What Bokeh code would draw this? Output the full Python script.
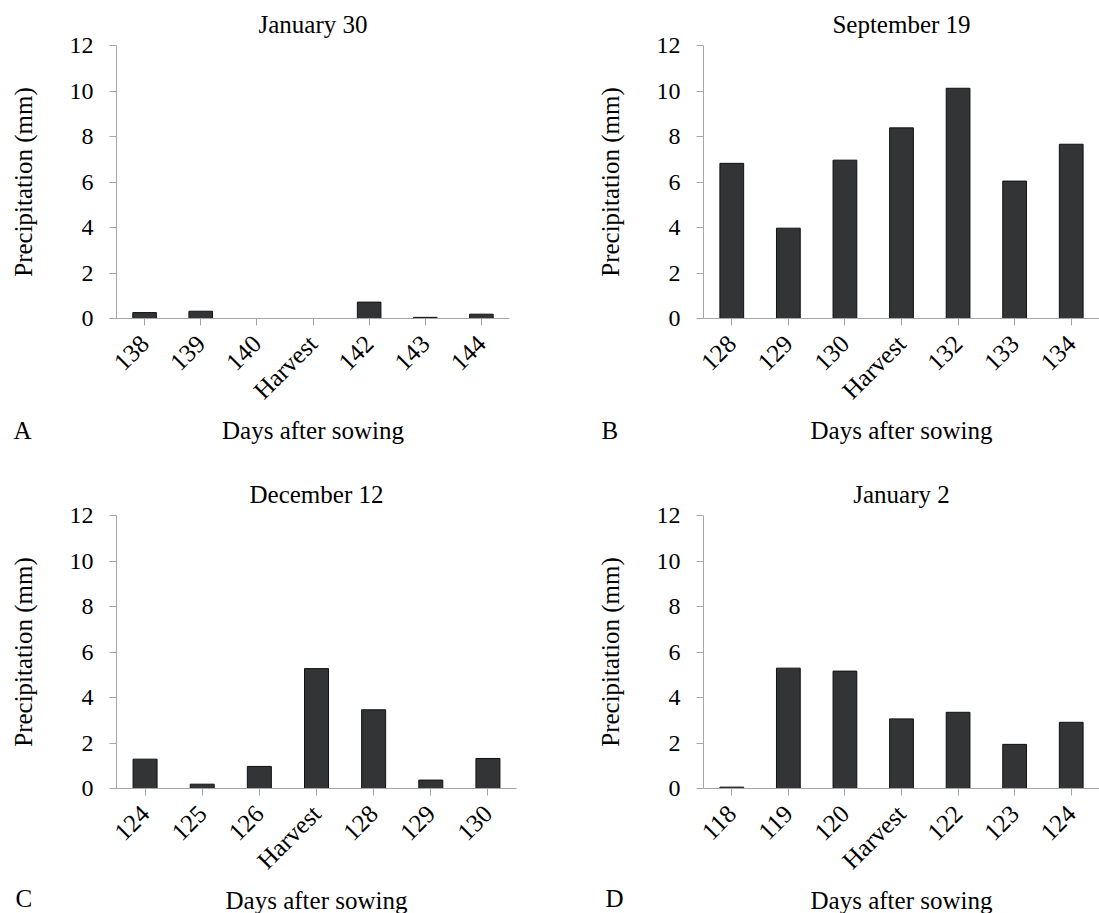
import math
from bokeh.plotting import figure
from bokeh.models import Range1d, FixedTicker, Label, FactorRange, ColumnDataSource
from bokeh.layouts import gridplot
from bokeh.embed import file_html
from bokeh.resources import INLINE

# ---- data ----
categories_a = ["138", "139", "140", "Harvest", "142", "143", "144"]
precip_a = [0.26, 0.32, 0.0, 0.0, 0.72, 0.05, 0.19]

categories_b = ["128", "129", "130", "Harvest", "132", "133", "134"]
precip_b = [6.82, 3.97, 6.96, 8.38, 10.12, 6.04, 7.66]

categories_c = ["124", "125", "126", "Harvest", "128", "129", "130"]
precip_c = [1.29, 0.19, 0.97, 5.27, 3.46, 0.37, 1.32]

categories_d = ["118", "119", "120", "Harvest", "122", "123", "124"]
precip_d = [0.06, 5.29, 5.16, 3.06, 3.35, 1.94, 2.91]

titles = ["January 30", "September 19", "December 12", "January 2"]
panel_letters = ["A", "B", "C", "D"]
y_ticks = [0, 2, 4, 6, 8, 10, 12]
x_label = "Days after sowing"
y_label = "Precipitation (mm)"

FONT = "Liberation Serif"
AXIS_COLOR = "#a6a6a6"
BAR_COLOR = "#333436"


def make_panel(cats, vals, title, letter, left, fw, right, top, fh, bottom,
               letter_dx, letter_dy, letter_side):
    p = figure(x_range=FactorRange(*cats), y_range=Range1d(0, 12),
               frame_width=fw, frame_height=fh,
               min_border_left=left, min_border_right=right,
               min_border_top=top, min_border_bottom=bottom,
               output_backend="svg", toolbar_location=None, tools="")
    src = ColumnDataSource(dict(cat=cats, val=vals))
    p.vbar(x="cat", top="val", width=0.42, source=src,
           fill_color=BAR_COLOR, line_color="#111111", line_width=1)

    p.title.text = title
    p.title.align = "center"
    p.title.text_font = FONT
    p.title.text_font_size = "25px"
    p.title.text_font_style = "normal"
    p.title.text_color = "black"
    p.title.standoff = 15

    p.xaxis.axis_label = x_label
    p.yaxis.axis_label = y_label
    for ax in (p.xaxis[0], p.yaxis[0]):
        ax.axis_label_text_font = FONT
        ax.axis_label_text_font_size = "25px"
        ax.axis_label_text_font_style = "normal"
        ax.axis_label_text_color = "black"
        ax.major_label_text_font = FONT
        ax.major_label_text_font_size = "24px"
        ax.major_label_text_color = "black"
        ax.axis_line_color = AXIS_COLOR
        ax.major_tick_line_color = AXIS_COLOR
        ax.major_tick_out = 7
        ax.major_tick_in = 0
        ax.minor_tick_line_color = None
    p.yaxis.ticker = FixedTicker(ticks=y_ticks)
    p.yaxis.major_label_standoff = 16
    p.yaxis.axis_label_standoff = 30
    p.xaxis.major_label_text_font_size = "25px"
    p.xaxis.major_label_orientation = math.pi / 4
    p.xaxis.major_label_standoff = 14
    p.xaxis.axis_label_standoff = 0

    p.xgrid.grid_line_color = None
    p.ygrid.grid_line_color = None
    p.outline_line_color = None
    p.background_fill_color = "white"
    p.border_fill_color = "white"

    # panel letter (data units relative to the frame's bottom-left corner);
    # placed in a side panel so that it is not clipped to the frame
    px_per_x = fw / len(cats)
    px_per_y = fh / 12.0
    p.add_layout(Label(x=letter_dx / px_per_x, y=-letter_dy / px_per_y,
                       text=letter, text_font=FONT, text_font_size="25px",
                       text_color="black", text_baseline="alphabetic",
                       text_align="left"), letter_side)
    return p


pa = make_panel(categories_a, precip_a, titles[0], panel_letters[0],
                116, 393, 40, 45, 273, 138, -103, 112, "right")
pb = make_panel(categories_b, precip_b, titles[1], panel_letters[1],
                154, 396, 0, 45, 273, 138, -102, 112, "left")
pc = make_panel(categories_c, precip_c, titles[2], panel_letters[2],
                112, 400, 37, 59, 273, 125, -101, 110, "right")
pd = make_panel(categories_d, precip_d, titles[3], panel_letters[3],
                154, 396, 0, 59, 273, 125, -98, 110, "left")

grid = gridplot([[pa, pb], [pc, pd]], toolbar_location=None)

with open("out.html", "w") as f:
    f.write(file_html(grid, INLINE))
